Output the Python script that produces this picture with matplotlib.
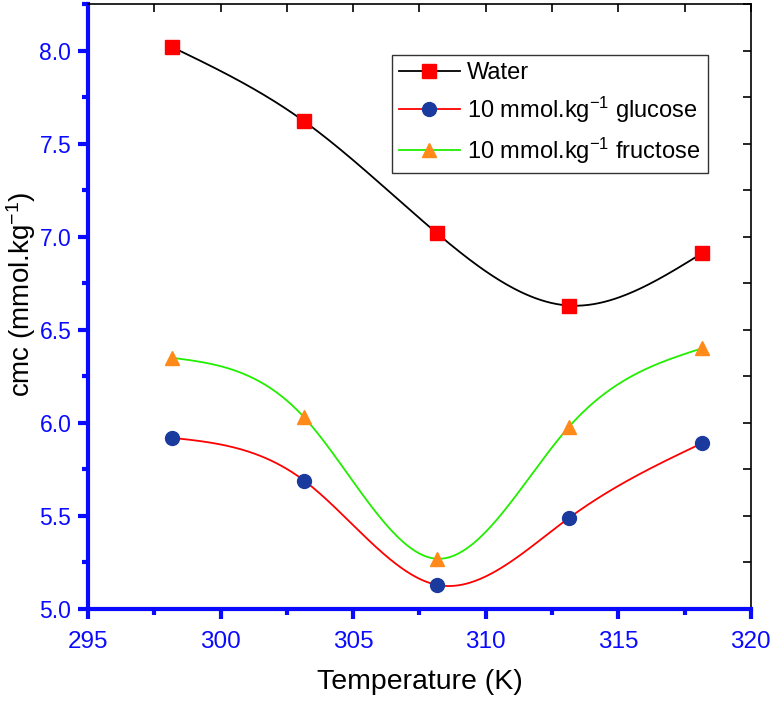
import numpy as np
import matplotlib
matplotlib.use("Agg")
import matplotlib.pyplot as plt
from matplotlib.ticker import MultipleLocator, FormatStrFormatter

plt.rcParams['font.family'] = ['Liberation Sans', 'DejaVu Sans']
plt.rcParams['mathtext.fontset'] = 'custom'
plt.rcParams['mathtext.rm'] = 'Liberation Sans'
plt.rcParams['mathtext.it'] = 'Liberation Sans:italic'

# data
temperature = [298.15, 303.15, 308.15, 313.15, 318.15]
cmc_water = [8.02, 7.62, 7.02, 6.63, 6.91]
cmc_glucose = [5.92, 5.69, 5.13, 5.49, 5.89]
cmc_fructose = [6.35, 6.03, 5.27, 5.98, 6.40]


def natural_spline(x, y, n=300):
    """Spline cubico natural por los puntos dados (como la linea suave de Origin)."""
    x = np.asarray(x, float)
    y = np.asarray(y, float)
    k = len(x)
    h = np.diff(x)
    A = np.zeros((k, k))
    b = np.zeros(k)
    A[0, 0] = A[-1, -1] = 1.0
    for i in range(1, k - 1):
        A[i, i - 1] = h[i - 1]
        A[i, i] = 2 * (h[i - 1] + h[i])
        A[i, i + 1] = h[i]
        b[i] = 6 * ((y[i + 1] - y[i]) / h[i] - (y[i] - y[i - 1]) / h[i - 1])
    m = np.linalg.solve(A, b)
    xs = np.linspace(x[0], x[-1], n)
    idx = np.clip(np.searchsorted(x, xs) - 1, 0, k - 2)
    x0, x1 = x[idx], x[idx + 1]
    hh = x1 - x0
    t0, t1 = x1 - xs, xs - x0
    ys = (m[idx] * t0 ** 3 / (6 * hh) + m[idx + 1] * t1 ** 3 / (6 * hh)
          + (y[idx] / hh - m[idx] * hh / 6) * t0
          + (y[idx + 1] / hh - m[idx + 1] * hh / 6) * t1)
    return xs, ys


fig = plt.figure(figsize=(7.74, 7.08), dpi=100)
ax = fig.add_axes([0.1137, 0.1398, 0.8563, 0.8546])

series = [
    (cmc_water, 'black', 's', '#ff0000', 'Water'),
    (cmc_glucose, '#ff0000', 'o', '#1a3a9e', '10 mmol.kg$^{-1}$ glucose'),
    (cmc_fructose, '#22ee00', '^', '#ff8a1a', '10 mmol.kg$^{-1}$ fructose'),
]
for vals, lc, mk, mc, lab in series:
    xs, ys = natural_spline(temperature, vals)
    ax.plot(xs, ys, color=lc, lw=1.3, zorder=2)
    ax.plot(temperature, vals, ls='none', marker=mk, ms=10,
            mfc=mc, mec=mc, zorder=3)
    ax.plot([], [], color=lc, lw=1.3, marker=mk, ms=10, mfc=mc, mec=mc,
            label=lab)

ax.set_xlim(295, 320)
ax.set_ylim(5.0, 8.25)
ax.xaxis.set_major_locator(MultipleLocator(5))
ax.xaxis.set_minor_locator(MultipleLocator(2.5))
ax.yaxis.set_major_locator(MultipleLocator(0.5))
ax.yaxis.set_minor_locator(MultipleLocator(0.25))
ax.yaxis.set_major_formatter(FormatStrFormatter('%.1f'))

blue = '#0a0aff'
ax.spines['left'].set_color(blue)
ax.spines['bottom'].set_color(blue)
ax.spines['left'].set_linewidth(3)
ax.spines['bottom'].set_linewidth(3)
ax.spines['top'].set_linewidth(1.2)
ax.spines['right'].set_linewidth(1.2)

ax.tick_params(which='both', direction='out', color=blue, width=3,
               labelcolor=blue, top=False, right=False)
ax.tick_params(which='major', length=7)
ax.tick_params(which='minor', length=4)
ax.tick_params(axis='x', labelsize=17.5, pad=9)
ax.tick_params(axis='y', labelsize=16.5, pad=5)

# ejes secundarios sin etiquetas para las marcas negras interiores
ax_top = ax.secondary_xaxis('top')
ax_top.xaxis.set_major_locator(MultipleLocator(2.5))
ax_top.tick_params(direction='in', length=6, width=1.2, color='black',
                   labeltop=False)
ax_top.spines['top'].set_visible(False)
ax_right = ax.secondary_yaxis('right')
ax_right.yaxis.set_major_locator(MultipleLocator(0.25))
ax_right.tick_params(direction='in', length=6, width=1.2, color='black',
                     labelright=False)
ax_right.spines['right'].set_visible(False)

ax.set_xlabel('Temperature (K)', fontsize=20.5, labelpad=11)
ax.set_ylabel('cmc (mmol.kg$^{-1}$)', fontsize=20)
ax.yaxis.set_label_coords(-0.076, 0.52)

leg = ax.legend(loc='upper left', bbox_to_anchor=(0.458, 0.916), fontsize=17,
                frameon=True, fancybox=False, edgecolor='black',
                handlelength=2.6, handletextpad=0.3, borderpad=0.3,
                labelspacing=0.45, borderaxespad=0)
leg.get_frame().set_linewidth(1.0)

fig.savefig('out.png', dpi=100)
